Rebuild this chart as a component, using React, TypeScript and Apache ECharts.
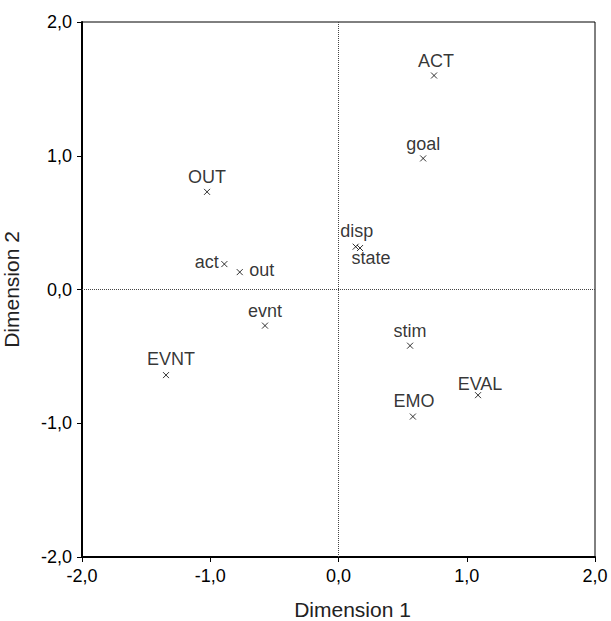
import React, { useEffect, useRef } from "react";
import * as echarts from "echarts";

const pointNames = ["ACT", "goal", "OUT", "act", "out", "disp", "state", "evnt", "EVNT", "stim", "EMO", "EVAL"];
const dimension1 = [0.745, 0.66, -1.025, -0.89, -0.77, 0.134, 0.168, -0.573, -1.345, 0.558, 0.58, 1.088];
const dimension2 = [1.60, 0.98, 0.73, 0.19, 0.13, 0.32, 0.31, -0.27, -0.64, -0.42, -0.95, -0.79];

const fmt = (v: number) => v.toFixed(1).replace(".", ",");

const FONT = "'Liberation Sans', Arial, sans-serif";

function labelFor(name: string): any {
  const base = { show: true, color: "#000", fontSize: 18, fontFamily: FONT, formatter: name };
  switch (name) {
    case "act":
      return { ...base, position: "left", distance: 2, offset: [0, -2] };
    case "out":
      return { ...base, position: "right", distance: 6, offset: [0, -2] };
    case "state":
      return { ...base, position: "bottom", distance: -3, offset: [11, 0] };
    case "disp":
      return { ...base, position: "top", distance: 3, offset: [1, 0] };
    case "EVNT":
      return { ...base, position: "top", distance: 4, offset: [5, 0] };
    case "EVAL":
      return { ...base, position: "top", distance: -1, offset: [2, 0] };
    case "EMO":
      return { ...base, position: "top", distance: 3, offset: [1, 0] };
    case "ACT":
      return { ...base, position: "top", distance: 2, offset: [2, 0] };
    default:
      return { ...base, position: "top", distance: 2, offset: [0, 0] };
  }
}

export default function App() {
  const ref = useRef<HTMLDivElement>(null);
  useEffect(() => {
    if (!ref.current) return;
    const chart = echarts.init(ref.current, undefined, { renderer: "svg" });
    const data = pointNames.map((n, i) => ({
      name: n,
      value: [dimension1[i], dimension2[i]],
      label: labelFor(n),
    }));
    const axisCommon = {
      type: "value",
      min: -2,
      max: 2,
      interval: 1,
      splitLine: { show: false },
      axisLine: { show: true, onZero: false, lineStyle: { color: "#000", width: 2 } },
      axisTick: { show: true, length: 5, lineStyle: { color: "#000", width: 1 } },
    };
    chart.setOption({
      animation: false,
      backgroundColor: "#fff",
      grid: {
        left: 82,
        right: 16,
        top: 22,
        bottom: 64,
        show: true,
        borderColor: "#000",
        borderWidth: 1,
        backgroundColor: "transparent",
        outerBoundsMode: "none",
        containLabel: false,
      },
      xAxis: {
        ...axisCommon,
        name: "Dimension 1",
        nameLocation: "middle",
        nameGap: 42,
        nameTextStyle: { color: "#222", fontSize: 21, fontFamily: FONT, padding: [0, 0, 0, 28] },
        axisLabel: { color: "#000", fontSize: 18, fontFamily: FONT, margin: 10, formatter: fmt },
      },
      yAxis: {
        ...axisCommon,
        name: "Dimension 2",
        nameLocation: "middle",
        nameGap: 60,
        nameRotate: 90,
        nameTextStyle: { color: "#222", fontSize: 21, fontFamily: FONT },
        axisLabel: { color: "#000", fontSize: 18, fontFamily: FONT, margin: 10, formatter: fmt },
      },
      series: [
        {
          type: "scatter",
          symbol: "path://M0,0L10,10M10,0L0,10",
          symbolSize: 6,
          itemStyle: { color: "transparent", borderColor: "#000", borderWidth: 1 },
          data,
          markLine: {
            silent: true,
            symbol: "none",
            label: { show: false },
            lineStyle: { color: "#444", type: "dotted", width: 1 },
            data: [{ xAxis: 0 }, { yAxis: 0 }],
          },
        },
      ],
    });
    return () => chart.dispose();
  }, []);
  return (
    <div
      ref={ref}
      style={{ position: "fixed", left: 0, top: 0, width: 611, height: 621, background: "#fff" }}
    />
  );
}
